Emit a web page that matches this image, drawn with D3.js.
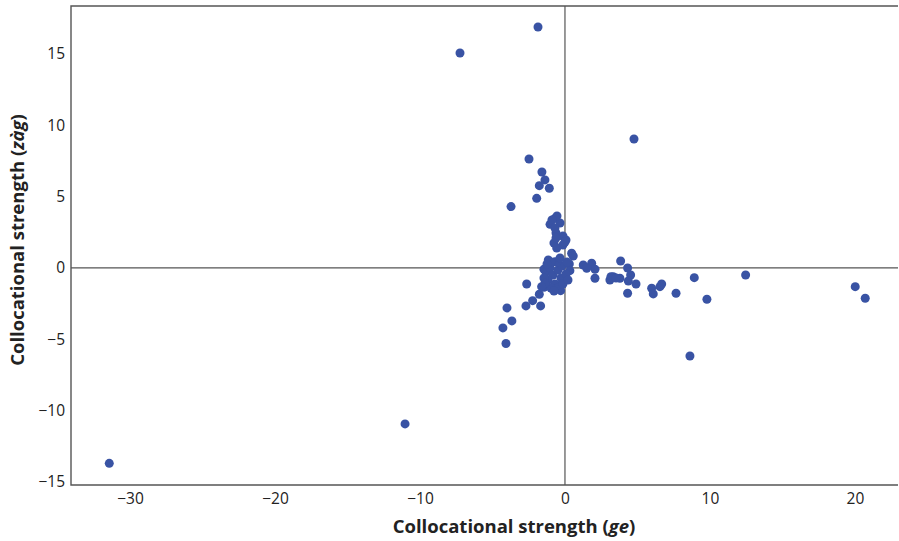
<!DOCTYPE html>
<html>
<head>
<meta charset="utf-8">
<script src="https://cdn.jsdelivr.net/npm/d3@7"></script>
<style>
  body { margin: 0; background: #fff; }
  svg text { font-family: "Open Sans", "Noto Sans", sans-serif; fill: #222; }
</style>
</head>
<body>
<div id="drawarea"></div>
<script>
// collocational strength with "ge" (x) and with "zàg" (y)
let geValues = [
  -31.43, -11.03, -7.24, -1.86, 4.76, -2.48, -1.59, -1.38, -1.77, -1.08, -1.95, -3.72,
  -0.69, -1.03, -0.34, -0.55, -0.90, -0.62, -0.14, -0.76, -0.14, -0.57, -0.62, -0.69, 0.07, 0.46, 0.57, 0.0,
  -1.15, -1.45, -0.69, 0.30, 0.34, 1.26, 1.84, 2.07, 1.50, 2.07, 3.84, 4.32, 4.53, 3.10, 3.33, 3.79,
  4.37, 4.90, 4.32, 5.98, 6.09, 6.55, 6.67, 7.66, 8.92, 9.79, 12.46, 20.02, 20.71, 8.62, 3.17, 3.52,
  -2.64, -2.69, -2.23, -1.68, -1.77, -1.45, -0.30, -3.66, -4.00, -4.28, -4.07,
  -1.31, -1.03, -0.83, -0.48, -0.21, -1.17, -0.69, -0.28, 0.07, -0.97, -0.48, -1.45, -0.14,
  -0.55, -0.34, -0.97, 0.14, 0.21, -1.24, -0.76, -1.38, -1.61
];
let zagValues = [
  -13.69, -10.93, 15.07, 16.89, 9.04, 7.64, 6.73, 6.17, 5.77, 5.59, 4.88, 4.30,
  3.48, 3.06, 3.15, 3.64, 3.36, 2.45, 2.24, 1.75, 1.61, 1.40, 2.10, 2.80, 1.96, 1.03, 0.84, 1.82,
  0.56, -0.09, 0.44, 0.28, -0.19, 0.21, 0.33, -0.09, -0.02, -0.72, 0.49, 0.0, -0.49, -0.84, -0.61, -0.72,
  -0.91, -1.12, -1.77, -1.42, -1.82, -1.31, -1.12, -1.77, -0.68, -2.19, -0.49, -1.31, -2.12, -6.17, -0.61, -0.70,
  -1.12, -2.66, -2.29, -2.66, -1.84, -1.35, -1.59, -3.71, -2.80, -4.20, -5.29,
  -0.28, 0.0, -0.49, -0.14, 0.14, -0.84, -1.12, -0.70, -0.42, -1.40, -1.40, -0.70, -1.12,
  0.42, 0.70, 0.42, 0.42, -0.84, 0.28, -1.61, -1.07, -1.31
];
let xTicks = [-30, -20, -10, 0, 10, 20];
let yTicks = [-15, -10, -5, 0, 5, 10, 15];

let width = 899, height = 541;
let plotLeft = 71, plotRight = 898, plotTop = 6, plotBottom = 485;

let svg = d3.select("div#drawarea").append("svg")
    .attr("width", width)
    .attr("height", height);

let x = d3.scaleLinear().domain([-34.07, 22.97]).range([plotLeft, plotRight]);
let y = d3.scaleLinear().domain([-15.21, 18.36]).range([plotBottom, plotTop]);

//Zero lines
svg.append("line")
    .attr("x1", plotLeft).attr("x2", plotRight)
    .attr("y1", y(0)).attr("y2", y(0))
    .attr("stroke", "#555").attr("stroke-width", 1.2);
svg.append("line")
    .attr("x1", x(0)).attr("x2", x(0))
    .attr("y1", plotTop).attr("y2", plotBottom)
    .attr("stroke", "#555").attr("stroke-width", 1.2);

//Frame (left, top, bottom)
svg.append("path")
    .attr("d", `M${plotRight},${plotTop}H${plotLeft}V${plotBottom}H${plotRight}`)
    .attr("fill", "none")
    .attr("stroke", "#555")
    .attr("stroke-width", 1.4);

//Axes without tick marks
let xAxis = svg.append("g")
    .attr("transform", `translate(0,${plotBottom})`)
    .call(d3.axisBottom(x).tickValues(xTicks).tickSize(0).tickPadding(8));
let yAxis = svg.append("g")
    .attr("transform", `translate(${plotLeft},0)`)
    .call(d3.axisLeft(y).tickValues(yTicks).tickSize(0).tickPadding(6));
[xAxis, yAxis].forEach(g => {
    g.select(".domain").remove();
    g.selectAll("text")
        .attr("font-family", "Open Sans, Noto Sans, sans-serif")
        .attr("font-size", 15.5)
        .attr("fill", "#222");
});

//Points
let points = geValues.map((g, k) => ({ge: g, zag: zagValues[k]}));
svg.append("g").selectAll("circle")
    .data(points)
    .join("circle")
    .attr("cx", d => x(d.ge))
    .attr("cy", d => y(d.zag))
    .attr("r", 4.5)
    .attr("fill", "#3953a4");

//Axis titles
let xTitle = svg.append("text")
    .attr("x", 514)
    .attr("y", 533)
    .attr("text-anchor", "middle")
    .attr("font-size", 18.5)
    .attr("font-weight", "bold");
xTitle.append("tspan").text("Collocational strength (");
xTitle.append("tspan").attr("font-style", "italic").text("ge");
xTitle.append("tspan").text(")");

let yTitle = svg.append("text")
    .attr("transform", "translate(24,240) rotate(-90)")
    .attr("text-anchor", "middle")
    .attr("font-size", 18.5)
    .attr("font-weight", "bold");
yTitle.append("tspan").text("Collocational strength (");
yTitle.append("tspan").attr("font-style", "italic").text("zàg");
yTitle.append("tspan").text(")");
</script>
</body>
</html>
